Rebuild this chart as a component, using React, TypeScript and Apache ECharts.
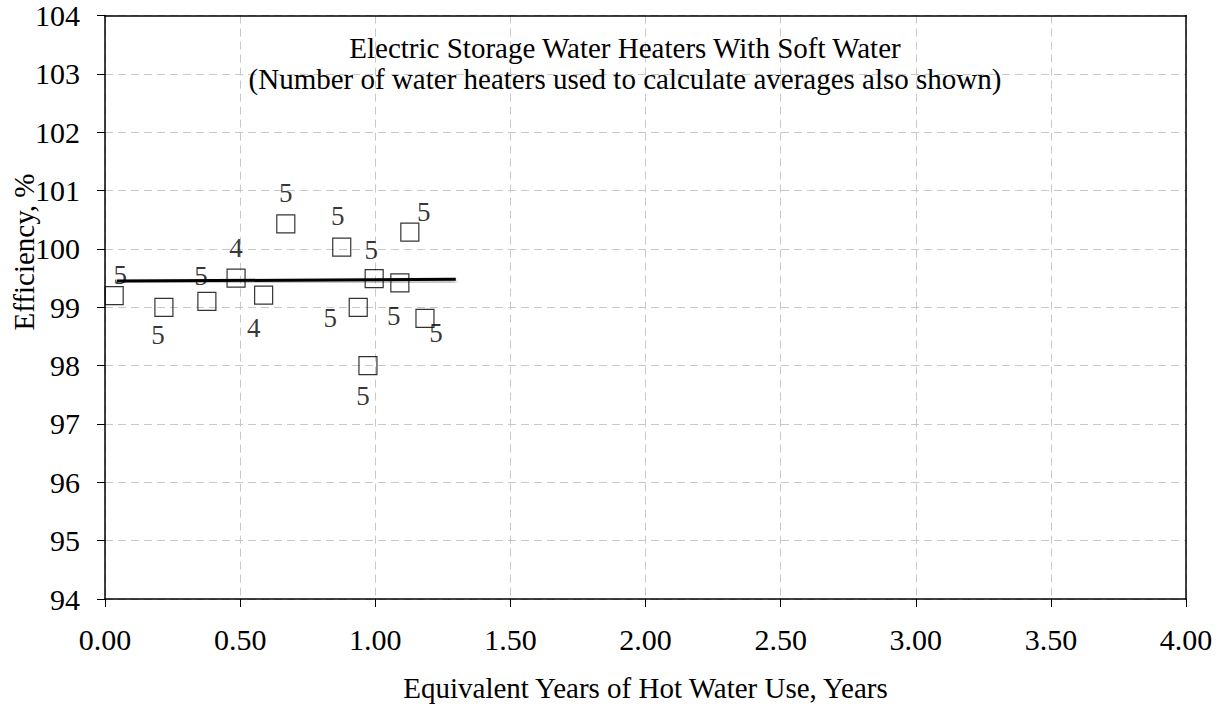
import React, { useEffect, useRef } from "react";
import * as echarts from "echarts";

const years = [0.034, 0.218, 0.377, 0.485, 0.587, 0.669, 0.876, 1.128, 0.996, 1.091, 0.937, 1.184, 0.973];
const efficiency = [99.2, 99.0, 99.1, 99.5, 99.21, 100.43, 100.03, 100.29, 99.49, 99.42, 99.0, 98.81, 98.0];
const heaterCounts = [5, 5, 5, 4, 4, 5, 5, 5, 5, 5, 5, 5, 5];
const trendX = [0.044, 1.298];
const trendY = [99.45, 99.48];
const xTicks = [0, 0.5, 1, 1.5, 2, 2.5, 3, 3.5, 4];
const yTicks = [94, 95, 96, 97, 98, 99, 100, 101, 102, 103, 104];

// label placement (pixel offsets relative to marker)
const labelOffsets: [number, number][] = [
  [6, -21], [-6, 28], [-6, -25], [0, -30], [-10, 33], [0, -31], [-4, -31],
  [14, -20], [-3, -29], [-6, 33], [-28, 11], [11, 15], [-5, 30],
];

const FONT = '"Liberation Serif", "Times New Roman", Times, serif';

export default function App() {
  const ref = useRef<HTMLDivElement>(null);
  useEffect(() => {
    if (!ref.current) return;
    const chart = echarts.init(ref.current, undefined, { renderer: "svg" });
    const points = years.map((x, i) => ({
      value: [x, efficiency[i], heaterCounts[i]],
      label: { offset: labelOffsets[i] },
    }));
    const trend = trendX.map((x, i) => [x, trendY[i]]);
    const borderAxis = {
      type: "value",
      min: 0,
      max: 1,
      axisLine: { show: true, onZero: false, lineStyle: { color: "#000", width: 1.5 } },
      axisTick: { show: false },
      axisLabel: { show: false },
      splitLine: { show: false },
    };
    chart.setOption({
      animation: false,
      backgroundColor: "#ffffff",
      textStyle: { fontFamily: FONT, color: "#000" },
      title: {
        text: "Electric Storage Water Heaters With Soft Water\n(Number of water heaters used to calculate averages also shown)",
        left: 625,
        top: 32,
        textAlign: "center",
        padding: 0,
        textStyle: { fontFamily: FONT, fontSize: 29, fontWeight: "normal", color: "#000", lineHeight: 31 },
      },
      grid: {
        left: 105,
        right: 35,
        top: 15.6,
        bottom: 107.7,
      },
      graphic: [
        {
          type: "text",
          x: 24,
          y: 252,
          rotation: Math.PI / 2,
          style: {
            text: "Efficiency, %",
            fontFamily: FONT,
            fontSize: 29,
            fill: "#000",
            textAlign: "center",
            textVerticalAlign: "middle",
          },
        },
      ],
      xAxis: [
        {
          type: "value",
          min: xTicks[0],
          max: xTicks[xTicks.length - 1],
          interval: 0.5,
          name: "Equivalent Years of Hot Water Use, Years",
          nameLocation: "middle",
          nameGap: 74,
          nameTextStyle: { fontFamily: FONT, fontSize: 29, color: "#000" },
          axisLine: { show: true, onZero: false, lineStyle: { color: "#000", width: 1.5 } },
          axisTick: { show: true, inside: false, length: 8, lineStyle: { color: "#000" } },
          axisLabel: {
            margin: 25,
            fontFamily: FONT,
            fontSize: 30,
            color: "#000",
            formatter: (v: number) => v.toFixed(2),
          },
          splitLine: { show: true, lineStyle: { color: "#c8c8c8", type: [8, 5], width: 1 } },
        },
        { ...borderAxis, position: "top" },
      ],
      yAxis: [
        {
          type: "value",
          min: yTicks[0],
          max: yTicks[yTicks.length - 1],
          interval: 1,
          axisLine: { show: true, onZero: false, lineStyle: { color: "#000", width: 1.5 } },
          axisTick: { show: true, inside: false, length: 8, lineStyle: { color: "#000" } },
          axisLabel: { margin: 25, fontFamily: FONT, fontSize: 30, color: "#000" },
          splitLine: { show: true, lineStyle: { color: "#c8c8c8", type: [8, 5], width: 1 } },
        },
        { ...borderAxis, position: "right" },
      ],
      series: [
        {
          type: "line",
          data: trend,
          symbol: "none",
          z: 3,
          lineStyle: {
            color: "#000",
            width: 3,
            shadowColor: "rgba(0,0,0,0.45)",
            shadowBlur: 4,
            shadowOffsetY: 3,
          },
        },
        {
          type: "scatter",
          data: points,
          symbol: "rect",
          symbolSize: 18,
          z: 4,
          itemStyle: { color: "rgba(255,255,255,0)", borderColor: "#000", borderWidth: 1.2 },
          label: {
            show: true,
            position: "inside",
            formatter: (p: any) => String(p.value[2]),
            fontFamily: FONT,
            fontSize: 27,
            color: "#000",
          },
        },
      ],
    });
    return () => chart.dispose();
  }, []);
  return <div ref={ref} style={{ position: "fixed", left: 0, top: 0, width: 1221, height: 707 }} />;
}
